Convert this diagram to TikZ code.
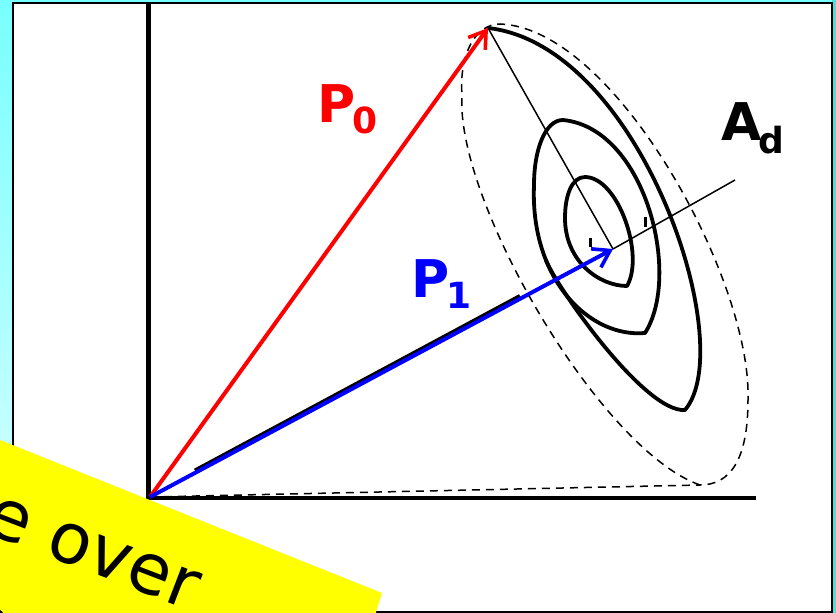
\documentclass[tikz,border=0pt]{standalone}
\usepackage{fontspec}
\setmainfont{DejaVu Sans}
\usetikzlibrary{arrows.meta}
\definecolor{bgcyan}{RGB}{120,255,255}
\definecolor{bgpale}{RGB}{225,255,255}
\definecolor{edgecyan}{RGB}{70,225,225}
\definecolor{sticker}{RGB}{255,255,0}
\definecolor{vred}{RGB}{255,0,0}
\definecolor{vblue}{RGB}{0,0,255}
\begin{document}
\begin{tikzpicture}[x=1pt,y=-1pt,
  vec/.style={line width=4pt, -{Straight Barb[length=16pt,width=21pt,line width=3.6pt]}},
  axis/.style={line width=4.5pt, line join=miter},
  contour/.style={line width=3.8pt, line join=round, line cap=round},
  thinline/.style={line width=1.5pt},
  dashline/.style={line width=1.5pt, dash pattern=on 8pt off 6pt},
  lbl/.style={inner sep=0pt, font=\fontsize{52}{52}\selectfont\bfseries},
  stickertext/.style={inner sep=0pt, rotate=-21, font=\fontsize{70}{84}\selectfont}
]
\useasboundingbox (0,0) rectangle (836,613);
\begin{scope}
\clip (0,0) rectangle (836,613);
% background
\shade[top color=bgcyan, bottom color=bgpale] (0,0) rectangle (836,613);
\fill[edgecyan] (832,0) rectangle (836,613);
\draw[line width=1.2pt, fill=white] (13,3) rectangle (832,612);

% key points
\coordinate (O) at (150,497);
\coordinate (P0) at (488,28);
\coordinate (P1) at (613,249);
\coordinate (Ad) at (735,180);
\coordinate (D) at (700,485);
\coordinate (Ytop) at (148.5,3);
\coordinate (Yc) at (148.5,498);
\coordinate (Xr) at (756,498);
\coordinate (Sh1) at (195,470.5);
\coordinate (Sh2) at (520,296);

% axes
\draw[axis] (Ytop) -- (Yc) -- (Xr);

% dashed projection
\draw[dashline] (O) -- (D);
\draw[dashline] (D) .. controls (600,450) and (455,200) .. (462,95)
  .. controls (459,55) and (475,24) .. (500,24)
  .. controls (615,28) and (752,280) .. (748,400)
  .. controls (748,460) and (730,485) .. (D);

% contour loops
\draw[contour] (627,286) .. controls (600,286) and (565,262) .. (565,218)
  .. controls (565,195) and (572,177) .. (585,177)
  .. controls (618,177) and (645,255) .. cycle;
\draw[contour] (645,333) .. controls (590,338) and (530,280) .. (534,185)
  .. controls (534,150) and (545,120) .. (563,120)
  .. controls (645,128) and (682,275) .. cycle;
\draw[contour] (P0) .. controls (640,45) and (740,345) .. (685,410)
  .. controls (645,413) and (557,288) .. (545.8,259.9);

% small ticks
\draw[line width=3pt] (590,238) -- (590,247);
\draw[line width=3pt] (645,217) -- (645,227);

% thin lines
\draw[thinline] (P0) -- (P1);
\draw[thinline] (P1) -- (Ad);

% vectors
\draw[vec, vred] (O) -- (P0);
\draw[line width=4pt, black] (Sh1) -- (Sh2);
\draw[vec, vblue] (O) -- (P1);

% labels
\node[lbl, text=vred, anchor=base west] (lP0) at (317,122)
  {P\kern-3pt\raisebox{-11pt}{\fontsize{36}{36}\selectfont 0}};
\node[lbl, text=vblue, anchor=base west] (lP1) at (411,297)
  {P\kern-3pt\raisebox{-11pt}{\fontsize{36}{36}\selectfont 1}};
\node[lbl, anchor=base west] (lAd) at (721,140)
  {A\kern-3pt\raisebox{-13pt}{\fontsize{36}{36}\selectfont d}};

% sticker
\fill[sticker] (-20,432) -- (382,593) -- (372,625) -- (-20,625) -- cycle;
\node[stickertext] (stk) at (93,553) {e over};
\node[stickertext] (stk2) at (-12,626) {o};
\end{scope}
\end{tikzpicture}
\end{document}
